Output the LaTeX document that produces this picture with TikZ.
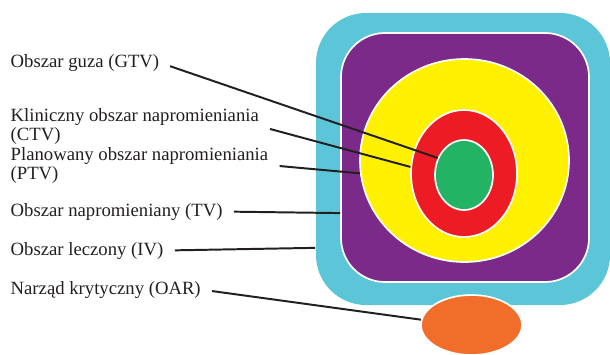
\documentclass[tikz,border=0pt]{standalone}
\usepackage{fontspec}
\setmainfont{Liberation Serif}
\usetikzlibrary{shapes.geometric}
\definecolor{sky}{RGB}{92,198,216}
\definecolor{plum}{RGB}{123,42,137}
\definecolor{lemon}{RGB}{255,241,0}
\definecolor{scarlet}{RGB}{237,28,36}
\definecolor{leaf}{RGB}{35,179,101}
\definecolor{tangerine}{RGB}{241,109,42}
\definecolor{ink}{RGB}{35,31,32}
\tikzset{
  zone/.style={fill=#1,draw=white,line width=1.2pt,inner sep=0pt},
  spot/.style={ellipse,fill=#1,draw=white,line width=1.2pt,inner sep=0pt},
  lbl/.style={anchor=base west,inner sep=0pt,align=left,text=ink,
    font=\fontsize{13.3}{13.5}\selectfont},
  lead/.style={draw=ink,line width=1.4pt,shorten <=0.28cm},
}
\begin{document}
\begin{tikzpicture}
  \useasboundingbox (0,0) rectangle (15.25,8.85);
  % regions
  \node[zone=sky,draw=none,rounded corners=1.25cm,minimum width=7.35cm,minimum height=7.3cm] (iv) at (11.575,4.875) {};
  \node[zone=plum,rounded corners=1.1cm,minimum width=6.2cm,minimum height=6.225cm] (tv) at (11.625,4.9125) {};
  \node[spot=lemon,minimum width=5.225cm,minimum height=5.075cm] (ptv) at (11.6125,4.8375) {};
  \node[spot=scarlet,minimum width=2.65cm,minimum height=3.175cm] (ctv) at (11.6,4.5125) {};
  \node[spot=leaf,minimum width=1.45cm,minimum height=1.75cm] (gtv) at (11.6,4.475) {};
  \node[spot=tangerine,minimum width=2.525cm,minimum height=1.5cm] (oar) at (11.7875,0.725) {};
  % labels
  \node[lbl] (lgtv) at (0.26,7.175) {Obszar guza (GTV)};
  \node[lbl] (lctv) at (0.26,5.35) {Kliniczny obszar napromieniania\\(CTV)};
  \node[lbl] (lptv) at (0.26,4.375) {Planowany obszar napromieniania\\(PTV)};
  \node[lbl] (ltv) at (0.26,3.45) {Obszar napromieniany (TV)};
  \node[lbl] (liv) at (0.26,2.475) {Obszar leczony (IV)};
  \node[lbl] (loar) at (0.26,1.5) {Narząd krytyczny (OAR)};
  % leaders
  \draw[lead] (lgtv.east) -- (gtv.147);
  \draw[lead] (lctv.east) -- (ctv.173);
  \draw[lead] (lptv.east) -- (ptv.187);
  \draw[lead] (ltv.east) -- (tv.204);
  \draw[lead] (liv.east) -- (iv.211);
  \draw[lead] (loar.east) -- (oar.174);
\end{tikzpicture}
\end{document}
